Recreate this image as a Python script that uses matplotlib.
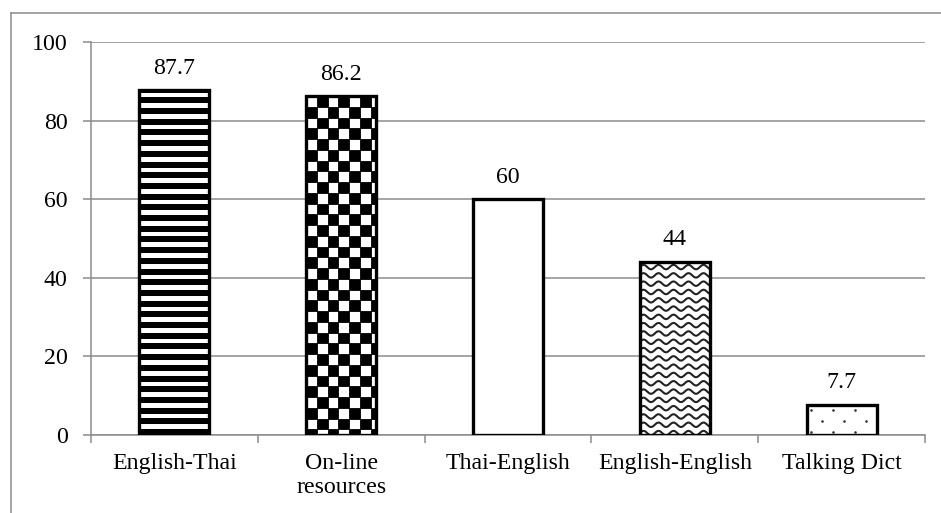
import numpy as np
import matplotlib
matplotlib.use("Agg")
import matplotlib.pyplot as plt
from matplotlib.patches import Rectangle
from matplotlib.lines import Line2D
from matplotlib.collections import PatchCollection, LineCollection

# Dictionary types and percentage of use
categories = ["English-Thai", "On-line\nresources", "Thai-English", "English-English", "Talking Dict"]
values = [87.7, 86.2, 60, 44, 7.7]
value_labels = ["87.7", "86.2", "60", "44", "7.7"]
yticks = [0, 20, 40, 60, 80, 100]

plt.rcParams['font.family'] = ['Liberation Serif', 'DejaVu Serif']

W, H, DPI = 941, 513, 100
fig = plt.figure(figsize=(W / DPI, H / DPI), dpi=DPI)
fig.patch.set_facecolor('white')

AX_L, AX_B, AX_W, AX_H = 91, 78, 834, 393
ax = fig.add_axes([AX_L / W, AX_B / H, AX_W / W, AX_H / H])
ax.set_xlim(-0.5, len(categories) - 0.5)
ax.set_ylim(0, 100)

GRAY = '#8c8c8c'
FS = 17.2

# pixel -> data unit conversion
px_x = AX_W / (len(categories))   # pixels per x unit
px_y = AX_H / 100.0               # pixels per y unit

x = np.arange(len(categories))
bw = 0.42

# white bar bodies
faces = ax.bar(x, values, width=bw, color='white', edgecolor='none', zorder=2)


def add_clipped(artist, patch):
    ax.add_artist(artist)
    artist.set_clip_path(patch)
    return artist


# 0: horizontal stripes
p = faces[0]
x0, w_, h_ = p.get_x(), p.get_width(), p.get_height()
period, band = 10.7, 6.0
rects = []
yy = 0.0
while yy < h_ * px_y:
    rects.append(Rectangle((x0, yy / px_y), w_, band / px_y))
    yy += period
pc = PatchCollection(rects, facecolor='black', edgecolor='none', zorder=2.5)
add_clipped(pc, p)

# 1: checkerboard
p = faces[1]
x0, w_, h_ = p.get_x(), p.get_width(), p.get_height()
sq = 10.75
rects = []
nx = int(w_ * px_x / sq) + 2
ny = int(h_ * px_y / sq) + 2
for i in range(nx):
    for j in range(ny):
        if (i + j) % 2 == 1:
            rects.append(Rectangle((x0 + i * sq / px_x, h_ - (j + 1) * sq / px_y),
                                   sq / px_x, sq / px_y))
pc = PatchCollection(rects, facecolor='black', edgecolor='black', linewidths=0.6,
                     zorder=2.5)
add_clipped(pc, p)

# 3: waves
p = faces[3]
x0, w_, h_ = p.get_x(), p.get_width(), p.get_height()
xs_px = np.linspace(0, w_ * px_x, 200)
segs = []
yy = h_ * px_y - 5
while yy > -10:
    ys = yy + 2.2 * np.sin(2 * np.pi * xs_px / 15.0)
    segs.append(np.column_stack([x0 + xs_px / px_x, ys / px_y]))
    yy -= 8.3
lc = LineCollection(segs, colors='#222222', linewidths=1.5, zorder=2.5)
add_clipped(lc, p)

# 4: dots
p = faces[4]
x0, w_, h_ = p.get_x(), p.get_width(), p.get_height()
dx, dy = 22.0, 11.0
pts = []
row = 0
yy = 3.0
while yy < h_ * px_y:
    off = 11.0 if row % 2 else 0.0
    xx = 4.0 + off
    while xx < w_ * px_x:
        pts.append((x0 + xx / px_x, yy / px_y))
        xx += dx
    yy += dy
    row += 1
pts = np.array(pts)
sc = ax.scatter(pts[:, 0], pts[:, 1], s=3.5, color='#333333', zorder=2.5, linewidths=0)
sc.set_clip_path(p)

# bar outlines
ax.bar(x, values, width=bw, fill=False, edgecolor='black', linewidth=2.4, zorder=3)

# value labels
for xi, v, lab in zip(x, values, value_labels):
    ax.annotate(lab, (xi, v), xytext=(0, 12), textcoords='offset points',
                ha='center', va='baseline', fontsize=FS, color='black')

# axes styling
ax.set_yticks(yticks)
ax.set_yticklabels([str(t) for t in yticks])
ax.set_xticks(x)
ax.set_xticklabels(categories)
ax.set_xticks(np.arange(-0.5, len(categories), 1.0), minor=True)
ax.tick_params(axis='y', which='major', length=5.8, width=1.1, color=GRAY,
               pad=11, labelsize=FS, direction='out')
ax.tick_params(axis='x', which='major', length=0, pad=13, labelsize=FS)
ax.tick_params(axis='x', which='minor', length=5.8, width=1.1, color=GRAY, direction='out')
for s in ['top', 'right']:
    ax.spines[s].set_visible(False)
for s in ['left', 'bottom']:
    ax.spines[s].set_color(GRAY)
    ax.spines[s].set_linewidth(1.1)
ax.yaxis.grid(True, color=GRAY, linewidth=1.1)
ax.set_axisbelow(True)
ax.set_facecolor('none')

# outer chart border
fig.add_artist(Line2D([11 / W, 11 / W], [0, 1 - 13 / H], transform=fig.transFigure,
                      color=GRAY, linewidth=1.1))
fig.add_artist(Line2D([11 / W, 1], [1 - 13 / H, 1 - 13 / H], transform=fig.transFigure,
                      color=GRAY, linewidth=1.1))

fig.savefig('out.png', dpi=DPI, facecolor='white')
